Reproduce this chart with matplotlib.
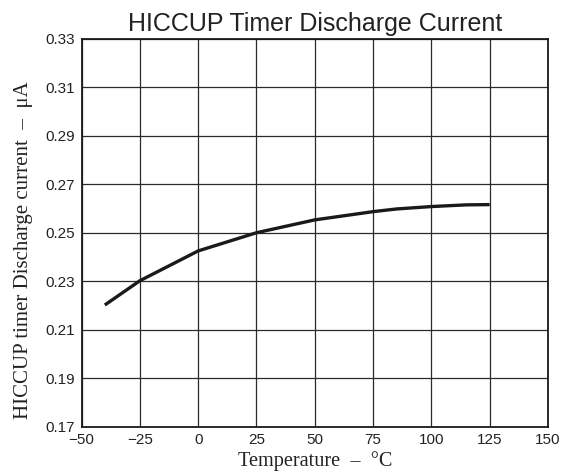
import matplotlib
matplotlib.use("Agg")
import matplotlib.pyplot as plt

temps = [-40, -25, 0, 25, 50, 75, 85, 100, 115, 125]
current = [0.2203, 0.2303, 0.2426, 0.2501, 0.2554, 0.2588, 0.2599, 0.2609, 0.2616, 0.2617]
xticks = [-50, -25, 0, 25, 50, 75, 100, 125, 150]
yticks = [0.17, 0.19, 0.21, 0.23, 0.25, 0.27, 0.29, 0.31, 0.33]

fig = plt.figure(figsize=(5.68, 4.75), dpi=100)
ax = fig.add_axes([0.1435, 0.1011, 0.8213, 0.8168])

ax.plot(temps, current, color="#1a1a1a", lw=2.4, solid_capstyle="butt", zorder=3)

ax.set_xlim(-50, 150)
ax.set_ylim(0.17, 0.33)
ax.set_xticks(xticks)
ax.set_yticks(yticks)
ax.set_yticklabels([f"{v:.2f}" for v in yticks])
ax.grid(True, color="#2a2a2a", lw=0.9)
ax.set_axisbelow(True)
ax.tick_params(length=0, pad=5, labelsize=11, colors="#222222")
ax.tick_params(axis="x", pad=4)
for lab in ax.get_xticklabels() + ax.get_yticklabels():
    lab.set_family("Liberation Sans")
for s in ax.spines.values():
    s.set_color("#1a1a1a")
    s.set_linewidth(1.3)

ax.set_title("HICCUP Timer Discharge Current", family="Liberation Sans", fontsize=18,
             color="#222222", pad=6)
ax.set_xlabel("Temperature  \u2013  \u00b0C", family="Liberation Serif", fontsize=14.6,
              color="#222222", labelpad=3)
ax.set_ylabel("HICCUP timer Discharge current  \u2013  \u03bcA", family="Liberation Serif",
              fontsize=15, color="#222222")
ax.yaxis.set_label_coords(-0.105, 0.456)

fig.savefig("out.png", dpi=100)
